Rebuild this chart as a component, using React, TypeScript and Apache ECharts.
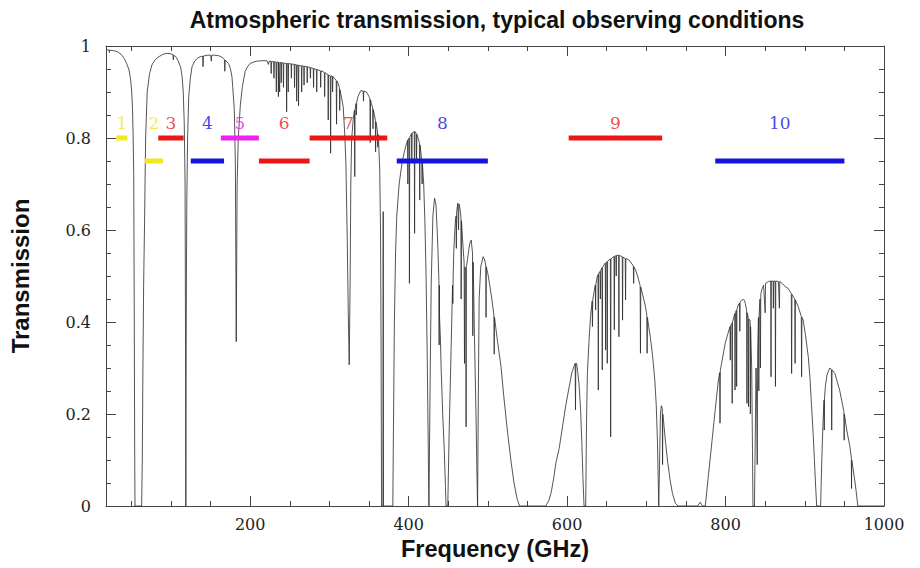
import React, { useEffect, useRef } from "react";
import * as echarts from "echarts";

// ---- Atmospheric transmission spectrum (GHz, transmission) ----
const window1: number[][] = [
  [18, 0.992], [22, 0.991], [22.3, 0.986], [22.6, 0.991], [27, 0.99], [32, 0.988], [37, 0.982],
  [41, 0.973], [44, 0.962], [47, 0.948], [49, 0.928], [50.5, 0.9], [51.5, 0.86], [52.3, 0.8],
  [53, 0.72], [53.6, 0.45], [54.2, 0.12], [54.6, 0], [63, 0],
];
const window2: number[][] = [
  [63.8, 0.1], [64.6, 0.3], [65.5, 0.48], [66.7, 0.62], [68, 0.8], [70, 0.9], [73, 0.94],
  [76, 0.959], [80, 0.97], [85, 0.977], [90, 0.982], [95, 0.984], [100, 0.983], [102.5, 0.981],
  [103, 0.97], [103.5, 0.98], [106, 0.977], [109, 0.968], [112, 0.955], [114, 0.935], [115.5, 0.9],
  [116.8, 0.83], [117.8, 0.7], [118.4, 0.35], [118.75, 0], [119.1, 0.3], [119.5, 0.5], [120, 0.66],
];
const window3: number[][] = [
  [121, 0.8], [122.4, 0.89], [124.5, 0.93], [126.6, 0.955], [130, 0.967], [133, 0.973], [137, 0.977],
  [140, 0.978], [140.5, 0.955], [141, 0.978], [145.5, 0.98], [150, 0.98], [151, 0.967], [151.5, 0.98],
  [155, 0.98], [160, 0.979], [163, 0.977], [166.4, 0.973], [167.5, 0.97], [168, 0.945], [168.5, 0.969],
  [172.7, 0.962], [175, 0.951], [177, 0.933], [178, 0.91], [180, 0.86], [181.3, 0.74], [182.4, 0.357],
  [183.5, 0.7], [185, 0.8], [187.5, 0.87], [190, 0.91], [193.7, 0.945], [197, 0.956], [200, 0.962],
  [204, 0.965], [208, 0.967],
];
const window4: number[][] = [
  [215, 0.968], [221, 0.968], [223, 0.96], [224, 0.967], [226, 0.967], [226.5, 0.94], [227, 0.966],
  [229.5, 0.966], [230, 0.93], [230.5, 0.966], [232.5, 0.965], [233, 0.9], [233.5, 0.965],
  [235.2, 0.965], [235.6, 0.89], [236, 0.965], [236.8, 0.965], [237.2, 0.9], [237.6, 0.964],
  [238.8, 0.964], [239.2, 0.92], [239.6, 0.964], [241.6, 0.963], [242, 0.91], [242.4, 0.963],
  [245.6, 0.962], [246, 0.857], [246.4, 0.962], [247.6, 0.962], [248, 0.9], [248.4, 0.962],
  [251.6, 0.961], [252, 0.93], [252.4, 0.961], [255.6, 0.96], [256, 0.91], [256.4, 0.96],
  [258.3, 0.959], [258.7, 0.88], [259.1, 0.959], [260.6, 0.958], [261, 0.87], [261.4, 0.958],
  [264.6, 0.957], [265, 0.9], [265.4, 0.957], [267.6, 0.956], [268, 0.915], [268.4, 0.956],
  [271.6, 0.955], [272, 0.92], [272.4, 0.955], [275.6, 0.953], [276, 0.93], [276.4, 0.953],
  [279.6, 0.951], [280, 0.91], [280.4, 0.951], [283.6, 0.949], [284, 0.9], [284.4, 0.949],
  [288.6, 0.946], [289, 0.91], [289.4, 0.946], [292, 0.944], [293.6, 0.942], [294, 0.89],
  [294.4, 0.942], [298.1, 0.938], [298.5, 0.839], [298.9, 0.937], [301.1, 0.935], [301.5, 0.767],
  [301.9, 0.935], [303.6, 0.934], [304, 0.9], [304.4, 0.934], [305, 0.933], [308.6, 0.925],
  [309, 0.83], [309.4, 0.924], [311, 0.919], [312.6, 0.91], [313, 0.86], [313.4, 0.905],
  [315, 0.89], [317.4, 0.868], [319.3, 0.81], [320.8, 0.745], [322.5, 0.58], [323.8, 0.42],
  [325, 0.307],
];
const window5: number[][] = [
  [326.2, 0.5], [327, 0.7], [328, 0.796], [330, 0.84], [331.6, 0.86], [332, 0.716], [332.4, 0.862],
  [333.6, 0.875], [334, 0.85], [334.4, 0.877], [336, 0.89], [339.6, 0.903], [342.6, 0.902],
  [343, 0.88], [343.4, 0.902], [346.7, 0.9], [350, 0.89], [351.1, 0.885], [351.5, 0.79],
  [351.9, 0.883], [353, 0.875], [354.6, 0.865], [355, 0.82], [355.4, 0.862], [358, 0.839],
  [358.3, 0.77], [358.7, 0.835], [360.6, 0.815], [361, 0.78], [361.4, 0.808], [362, 0.796],
  [363.5, 0.73], [364.5, 0.6], [365.2, 0.35], [365.8, 0], [367.5, 0], [367.9, 0.64], [368.3, 0],
  [380, 0],
];
const window6: number[][] = [
  [381, 0.2], [382, 0.4], [383.5, 0.55], [385, 0.63], [388, 0.7], [392, 0.75], [396, 0.78],
  [398.6, 0.795], [399, 0.7], [399.4, 0.796], [400.6, 0.8], [401, 0.484], [401.4, 0.801],
  [403.6, 0.81], [404, 0.75], [404.4, 0.811], [407.1, 0.814], [407.5, 0.593], [407.9, 0.814],
  [409.6, 0.81], [410, 0.75], [410.4, 0.808], [413.6, 0.79], [414, 0.665], [414.4, 0.785],
  [416.6, 0.75], [417, 0.7], [417.4, 0.745], [419, 0.7], [420.5, 0.62], [422, 0.5], [423.5, 0.32],
  [424.8, 0.12], [425.6, 0],
];
const window7: number[][] = [
  [426.4, 0], [427.3, 0.3], [428.5, 0.484], [430.6, 0.63], [432.7, 0.669], [434.5, 0.655],
  [436, 0.6], [437, 0.556], [438.2, 0.49], [438.5, 0.35], [438.8, 0.48], [439, 0.41], [440, 0.37],
  [441, 0.3], [443, 0.2], [445, 0.12], [446.5, 0.04], [447.2, 0],
];
const window8: number[][] = [
  [449.4, 0], [451, 0.15], [453.6, 0.34], [455.4, 0.48], [455.8, 0.44], [456.2, 0.5], [457, 0.556],
  [459, 0.62], [459.8, 0.63], [460.2, 0.56], [460.6, 0.64], [462, 0.658], [462.6, 0.658],
  [463, 0.6], [463.4, 0.657], [464, 0.655], [466, 0.63], [466.3, 0.45], [466.7, 0.62], [468, 0.58],
  [470, 0.53], [470.5, 0.31], [471, 0.52], [472.1, 0.51], [472.5, 0.172], [472.9, 0.52],
  [475, 0.545], [477, 0.57], [479, 0.578], [480.6, 0.55], [481, 0.37], [481.4, 0.53], [482, 0.48],
  [483, 0.375], [485, 0.2], [486.3, 0.06], [487, 0],
];
const window9: number[][] = [
  [487.3, 0], [488, 0.25], [489, 0.45], [491, 0.52], [494, 0.542], [496, 0.535], [497.4, 0.522],
  [497.7, 0.41], [498, 0.52], [500, 0.505], [502, 0.484], [505, 0.45], [507.6, 0.415], [508, 0.33],
  [508.4, 0.41], [512, 0.36], [516.6, 0.303], [520, 0.24], [525, 0.158], [529, 0.1], [533, 0.05],
  [537, 0.015], [540, 0], [573, 0],
];
const window10: number[][] = [
  [577, 0.012], [580, 0.03], [583, 0.06], [586, 0.095], [590, 0.125], [594, 0.17], [598, 0.215],
  [602.5, 0.258], [606, 0.29], [609, 0.305], [610.2, 0.31], [610.6, 0.209], [611, 0.31], [612, 0.31],
  [613.5, 0.29], [615, 0.267], [617, 0.21], [618.5, 0.143], [620, 0.06], [621.4, 0],
];
const window11: number[][] = [
  [623.5, 0], [624.5, 0.18], [625.6, 0.288], [627.7, 0.36], [629.5, 0.41], [631.6, 0.445],
  [632, 0.39], [632.4, 0.448], [634, 0.465], [635.6, 0.48], [636, 0.426], [636.4, 0.483],
  [638, 0.498], [639, 0.503], [639.4, 0.252], [639.8, 0.505], [641.6, 0.51], [642, 0.45],
  [642.4, 0.512], [644, 0.518], [644.4, 0.296], [644.8, 0.519], [646.5, 0.524], [648.2, 0.528],
  [648.6, 0.339], [649, 0.529], [650.3, 0.531], [650.7, 0.31], [651.1, 0.532], [653, 0.535],
  [654.6, 0.537], [655, 0.15], [655.4, 0.537], [657, 0.54], [659.2, 0.542], [659.6, 0.383],
  [660, 0.543], [661.6, 0.544], [662, 0.5], [662.4, 0.545], [663, 0.546], [665, 0.545],
  [665.4, 0.368], [665.8, 0.545], [667, 0.544], [669.6, 0.542], [670, 0.404], [670.4, 0.541],
  [673.4, 0.538], [673.8, 0.448], [674.2, 0.538], [678, 0.535], [683.6, 0.522], [684, 0.484],
  [684.4, 0.52], [686.4, 0.513], [689, 0.5], [692.2, 0.479], [692.6, 0.332], [693, 0.476],
  [696, 0.455], [699, 0.433], [700.6, 0.415], [701, 0.332], [701.4, 0.41], [703, 0.39],
  [705, 0.368], [708, 0.325], [710.7, 0.274], [712.5, 0.22], [714, 0.143], [715, 0.06], [715.7, 0],
];
const window12: number[][] = [
  [716.2, 0], [716.8, 0.1], [717.8, 0.2], [719, 0.218], [720.2, 0.212], [720.5, 0.09], [720.8, 0.2],
  [722, 0.18], [724, 0.143], [727, 0.095], [730, 0.057], [733, 0.027], [736.7, 0.006], [740, 0],
  [765, 0], [768, 0.008], [771, 0],
];
const window13: number[][] = [
  [774.4, 0], [778, 0.06], [783, 0.143], [787, 0.21], [791, 0.274], [792.6, 0.29], [793, 0.18],
  [793.4, 0.295], [795, 0.31], [799.6, 0.354], [803, 0.375], [805.6, 0.39], [806, 0.317],
  [806.4, 0.392], [808, 0.397], [808.4, 0.223], [808.8, 0.4], [811.6, 0.418], [812, 0.252],
  [812.4, 0.42], [813.6, 0.425], [814, 0.26], [814.4, 0.428], [816, 0.437], [817.6, 0.441],
  [818, 0.38], [818.4, 0.443], [820, 0.447], [822.6, 0.449], [824, 0.447], [825, 0.44],
  [826.6, 0.425], [827, 0.223], [827.4, 0.42], [828.6, 0.41], [829, 0.216], [829.4, 0.406],
  [831, 0.404], [831.3, 0.2], [831.6, 0.39], [833, 0.3], [834, 0.12], [834.6, 0],
];
const window14: number[][] = [
  [836.5, 0], [837.5, 0.15], [838.5, 0.3], [839.5, 0.2], [840, 0.09], [840.5, 0.33], [841.5, 0.41],
  [842, 0.25], [842.5, 0.42], [843.5, 0.45], [844, 0.3], [844.5, 0.46], [845.7, 0.47], [848, 0.48],
  [850, 0.42], [850.5, 0.484], [854, 0.488], [857, 0.489], [857.4, 0.281], [857.8, 0.489],
  [860, 0.489], [860.4, 0.43], [860.8, 0.489], [862.6, 0.489], [863, 0.26], [863.4, 0.489],
  [866.7, 0.488], [868, 0.43], [868.4, 0.488], [872, 0.483], [876, 0.476], [879, 0.473],
  [883, 0.462], [883.4, 0.288], [883.8, 0.46], [885.5, 0.455], [887.4, 0.45], [887.8, 0.31],
  [888.2, 0.448], [891.8, 0.433], [895.6, 0.412], [896, 0.281], [896.4, 0.41], [898, 0.404],
  [901, 0.37], [904.4, 0.325], [906.5, 0.28], [908.6, 0.216], [910.5, 0.16], [912, 0.107],
  [913.5, 0.05], [915, 0],
];
const window15: number[][] = [
  [920, 0], [921.5, 0.1], [923, 0.18], [924.3, 0.23], [924.6, 0.165], [924.9, 0.235], [926, 0.26],
  [928, 0.285], [931.6, 0.3], [933.6, 0.297], [934, 0.165], [934.4, 0.296], [938, 0.288],
  [941, 0.27], [944, 0.252], [947, 0.226], [949.4, 0.205], [949.7, 0.143], [950, 0.2], [953, 0.165],
  [957, 0.129], [958.8, 0.105], [959, 0.038], [959.3, 0.1], [963, 0.057], [965, 0.03], [967, 0],
  [1000, 0],
];

// ---- ALMA receiver bands ----
const bandNames = ["1", "2", "3", "4", "5", "6", "7", "8", "9", "10"];
const bandStart = [31, 67, 84, 125, 163, 211, 275, 385, 602, 787];
const bandEnd = [45, 90, 116, 167, 211, 275, 373, 500, 720, 950];
const bandLevel = [0.8, 0.75, 0.8, 0.75, 0.8, 0.75, 0.8, 0.75, 0.8, 0.75];
const labelLevel = 0.832;

// ---- axis ticks ----
const xMajorTicks = [200, 400, 600, 800, 1000];
const xMinorTicks = [50, 100, 150, 250, 300, 350, 450, 500, 550, 650, 700, 750, 850, 900, 950];

const YELLOW = "#f2e81c";
const RED = "#ee1515";
const BLUE = "#1414e0";
const MAGENTA = "#ee22ee";
const bandColors = [YELLOW, YELLOW, RED, BLUE, MAGENTA, RED, RED, BLUE, RED, BLUE];

export default function App() {
  const ref = useRef<HTMLDivElement>(null);

  useEffect(() => {
    if (!ref.current) return;
    const chart = echarts.init(ref.current, undefined, { renderer: "svg" });

    const transmission = [
      ...window1, ...window2, ...window3, ...window4, ...window5, ...window6, ...window7,
      ...window8, ...window9, ...window10, ...window11, ...window12, ...window13, ...window14,
      ...window15,
    ];

    const tickFont = { fontFamily: "DejaVu Serif", fontSize: 16, color: "#222" };
    const frameLine = { show: true, lineStyle: { color: "#444", width: 1 } };
    const tickStyle = { color: "#444", width: 1 };
    const xBase = { type: "value" as const, min: 18, max: 1000, splitLine: { show: false } };

    const bandSeries = bandNames.map((name, i) => ({
      type: "line",
      name: "Band " + name,
      data: [[bandStart[i], bandLevel[i]], [bandEnd[i], bandLevel[i]]],
      symbol: "none",
      lineStyle: { color: bandColors[i], width: 5, cap: "butt" },
      z: 4,
      silent: true,
    }));

    const option: any = {
      animation: false,
      backgroundColor: "#ffffff",
      grid: { left: 106, right: 36, top: 46, bottom: 62 },
      graphic: [
        {
          type: "text",
          x: 497,
          y: 20,
          style: {
            text: "Atmospheric transmission, typical observing conditions",
            fontFamily: "Liberation Sans",
            fontWeight: "bold",
            fontSize: 23,
            fill: "#111",
            textAlign: "center",
            textVerticalAlign: "middle",
          },
        },
      ],
      xAxis: [
        {
          ...xBase,
          position: "bottom",
          axisLine: frameLine,
          axisTick: { show: true, inside: true, length: 10, customValues: xMajorTicks, lineStyle: tickStyle },
          axisLabel: {
            show: true,
            customValues: xMajorTicks,
            margin: 10,
            formatter: (v: number) => String(v),
            ...tickFont,
          },
          name: "Frequency (GHz)",
          nameLocation: "middle",
          nameGap: 31,
          nameTextStyle: { fontFamily: "Liberation Sans", fontWeight: "bold", fontSize: 23.5, color: "#111" },
        },
        {
          ...xBase,
          position: "bottom",
          axisLine: { show: false },
          axisTick: { show: true, inside: true, length: 5, customValues: xMinorTicks, lineStyle: tickStyle },
          axisLabel: { show: false },
        },
        {
          ...xBase,
          position: "top",
          axisLine: frameLine,
          axisTick: { show: true, inside: true, length: 10, customValues: xMajorTicks, lineStyle: tickStyle },
          axisLabel: { show: false },
        },
        {
          ...xBase,
          position: "top",
          axisLine: { show: false },
          axisTick: { show: true, inside: true, length: 5, customValues: xMinorTicks, lineStyle: tickStyle },
          axisLabel: { show: false },
        },
      ],
      yAxis: [
        {
          type: "value",
          position: "left",
          min: 0,
          max: 1,
          interval: 0.2,
          splitLine: { show: false },
          axisLine: frameLine,
          axisTick: { show: true, inside: true, length: 10, lineStyle: tickStyle },
          minorTick: { show: true, splitNumber: 4, length: 5, lineStyle: tickStyle },
          axisLabel: { show: true, margin: 15, ...tickFont },
          name: "Transmission",
          nameLocation: "middle",
          nameGap: 74,
          nameTextStyle: { fontFamily: "Liberation Sans", fontWeight: "bold", fontSize: 24, color: "#111" },
        },
        {
          type: "value",
          position: "right",
          min: 0,
          max: 1,
          interval: 0.2,
          splitLine: { show: false },
          axisLine: frameLine,
          axisTick: { show: true, inside: true, length: 10, lineStyle: tickStyle },
          minorTick: { show: true, splitNumber: 4, length: 5, lineStyle: tickStyle },
          axisLabel: { show: false },
        },
      ],
      series: [
        {
          type: "line",
          name: "Transmission",
          data: transmission,
          symbol: "none",
          showSymbol: false,
          lineStyle: { color: "#2a2a2a", width: 0.8 },
          z: 3,
          silent: true,
        },
        ...bandSeries,
        {
          type: "scatter",
          name: "Band labels",
          symbol: "circle",
          symbolSize: 2,
          itemStyle: { color: "rgba(255,255,255,0)" },
          silent: true,
          z: 5,
          data: bandNames.map((name, i) => ({
            name,
            value: [(bandStart[i] + bandEnd[i]) / 2, labelLevel],
            label: { color: bandColors[i] },
          })),
          label: {
            show: true,
            position: "inside",
            formatter: "{b}",
            fontFamily: "DejaVu Serif",
            fontSize: 17,
          },
        },
      ],
    };

    chart.setOption(option);
    return () => chart.dispose();
  }, []);

  return (
    <div
      ref={ref}
      style={{ position: "absolute", left: 0, top: 0, width: 920, height: 568, background: "#fff" }}
    />
  );
}
